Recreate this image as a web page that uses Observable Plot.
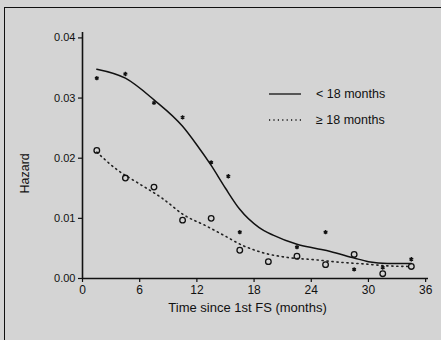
<!DOCTYPE html>
<html>
<head>
<meta charset="utf-8">
<script src="https://cdn.jsdelivr.net/npm/d3@7"></script>
<script src="https://cdn.jsdelivr.net/npm/@observablehq/plot@0.6"></script>
<style>
  html, body { margin: 0; padding: 0; background: #d4d4d4; }
  #wrap { position: relative; width: 441px; height: 340px; overflow: hidden; background: #d4d4d4; }
  #frame { position: absolute; left: 4px; top: 7px; width: 460px; height: 360px; border-left: 1.5px solid #111; border-top: 1.5px solid #111; pointer-events: none; }
  #legend { position: absolute; left: 268px; top: 81px; font-family: "Liberation Sans", Arial, sans-serif; font-size: 12.5px; color: #111; }
  #legend .row { display: flex; align-items: center; height: 26px; }
  #legend svg { margin-right: 14px; }
</style>
</head>
<body>
<div id="wrap">
  <div id="frame"></div>
  <div id="chart"></div>
  <div id="legend"></div>
</div>
<script>
// Observed points: < 18 months (stars)
const monthsLt = [1.5, 4.5, 7.5, 10.5, 13.5, 15.3, 16.5, 22.5, 25.5, 28.5, 31.5, 34.5];
const hazardLt = [0.0333, 0.0340, 0.0292, 0.0268, 0.0193, 0.0170, 0.0077, 0.0052, 0.0077, 0.0015, 0.0018, 0.0032];

// Observed points: >= 18 months (circles)
const monthsGe = [1.5, 4.5, 7.5, 10.5, 13.5, 16.5, 19.5, 22.5, 25.5, 28.5, 31.5, 34.5];
const hazardGe = [0.0213, 0.0167, 0.0152, 0.0097, 0.0100, 0.0047, 0.0028, 0.0037, 0.0023, 0.0040, 0.0008, 0.0020];

// Fitted curve < 18 months (solid)
const fitMonthsLt = [1.5, 4.5, 7.5, 10.5, 12.0, 13.5, 15.0, 16.5, 18.5, 20.0, 22.5, 24.5, 26.0, 28.5, 30.0, 32.0, 34.5];
const fitHazardLt = [0.0348, 0.0333, 0.0297, 0.0253, 0.0222, 0.0188, 0.0150, 0.0115, 0.0085, 0.0072, 0.0057, 0.0050, 0.0045, 0.0034, 0.0028, 0.0025, 0.0025];

// Fitted curve >= 18 months (dotted)
const fitMonthsGe = [1.5, 3.7, 5.9, 8.4, 10.6, 12.9, 14.8, 16.8, 18.9, 21.5, 24.5, 27.0, 29.7, 32.0, 34.5];
const fitHazardGe = [0.0210, 0.0180, 0.0158, 0.0133, 0.0106, 0.0088, 0.0072, 0.0055, 0.0043, 0.0035, 0.0031, 0.0027, 0.0024, 0.0021, 0.0020];

const xTicks = [0, 6, 12, 18, 24, 30, 36];
const yTicks = [0, 0.01, 0.02, 0.03, 0.04];
const seriesLabels = ["< 18 months", "\u2265 18 months"];

const ptsLt = monthsLt.map((m, i) => ({month: m, hazard: hazardLt[i]}));
const ptsGe = monthsGe.map((m, i) => ({month: m, hazard: hazardGe[i]}));
const fitLt = fitMonthsLt.map((m, i) => ({month: m, hazard: fitHazardLt[i]}));
const fitGe = fitMonthsGe.map((m, i) => ({month: m, hazard: fitHazardGe[i]}));

const font = '"Liberation Sans", Arial, sans-serif';

const chart = Plot.plot({
  width: 441,
  height: 340,
  marginLeft: 82,
  marginRight: 13,
  marginTop: 32,
  marginBottom: 62,
  style: {background: "transparent", fontFamily: font, fontSize: "11.5px", color: "#111"},
  x: {domain: [0, 36.3], ticks: xTicks, label: null},
  y: {domain: [0, 0.0409], ticks: yTicks, label: null},
  marks: [
    Plot.axisX({ticks: xTicks, tickFormat: d => String(d), tickSize: 4, tickPadding: 3, fontSize: 12, stroke: "#111", strokeWidth: 1.2}),
    Plot.axisY({ticks: yTicks, tickFormat: d => d.toFixed(2), tickSize: 4, tickPadding: 3, fontSize: 11, stroke: "#111", strokeWidth: 1.2}),
    Plot.ruleY([0], {stroke: "#111", strokeWidth: 1.6}),
    Plot.ruleX([0], {stroke: "#111", strokeWidth: 1.6}),
    Plot.line(fitLt, {x: "month", y: "hazard", curve: "monotone-x", stroke: "#111", strokeWidth: 1.5}),
    Plot.line(fitGe, {x: "month", y: "hazard", curve: "monotone-x", stroke: "#222", strokeWidth: 1.6, strokeDasharray: "1.2,3.8"}),
    Plot.dot(ptsLt, {x: "month", y: "hazard", symbol: "asterisk", r: 2, stroke: "#111", strokeWidth: 1.3}),
    Plot.dot(ptsGe, {x: "month", y: "hazard", symbol: "circle", r: 2.8, stroke: "#111", strokeWidth: 1.3, fill: "none"}),
    Plot.text(["Time since 1st FS (months)"], {frameAnchor: "bottom", dy: 33, dx: -8, fontSize: 13, fill: "#111"}),
    Plot.text(["Hazard"], {frameAnchor: "left", dx: -58, dy: 38, rotate: -90, fontSize: 12.5, fill: "#111"})
  ]
});
document.getElementById("chart").appendChild(chart);

// Legend
const legend = document.getElementById("legend");
seriesLabels.forEach((lab, i) => {
  const row = document.createElement("div");
  row.className = "row";
  const dash = i === 0 ? "" : 'stroke-dasharray="1.2,3.2"';
  row.innerHTML = `<svg width="34" height="6"><line x1="1" y1="3" x2="33" y2="3" stroke="#111" stroke-width="${i === 0 ? 1.3 : 1.6}" ${dash}/></svg><span>${lab}</span>`;
  legend.appendChild(row);
});
</script>
</body>
</html>
